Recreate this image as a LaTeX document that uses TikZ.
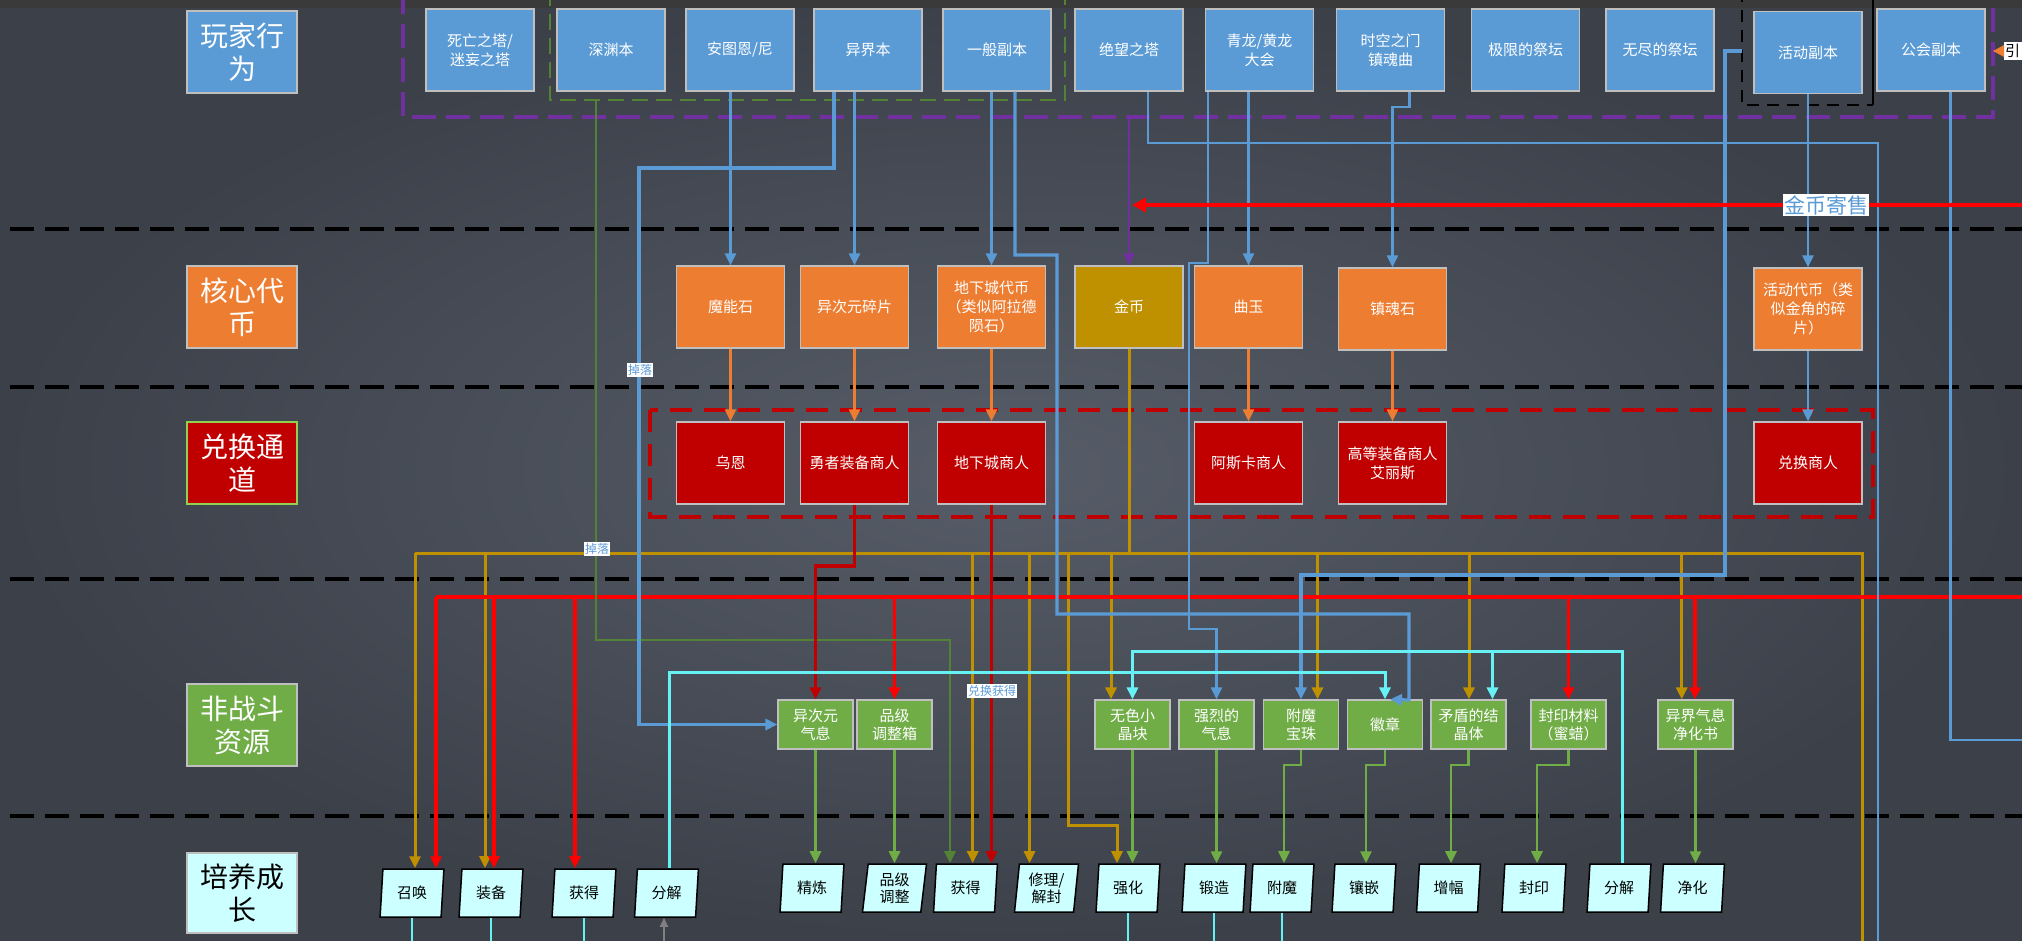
\documentclass[tikz,border=0pt]{standalone}
\usepackage{fontspec}
\newfontfamily\cjkf{Noto Sans CJK SC}
\usetikzlibrary{arrows.meta,shapes.geometric}
\definecolor{bgin}{HTML}{575D68}
\definecolor{bgout}{HTML}{3B4049}
\definecolor{topbar}{HTML}{3A3A3A}
\definecolor{cblue}{HTML}{5B9BD5}
\definecolor{corange}{HTML}{ED7D31}
\definecolor{cgold}{HTML}{BF9000}
\definecolor{cdred}{HTML}{C00000}
\definecolor{cgreen}{HTML}{70AD47}
\definecolor{cdgreen}{HTML}{548235}
\definecolor{ccyanbox}{HTML}{CCFFFF}
\definecolor{ccyan}{HTML}{66F2F5}
\definecolor{cred}{HTML}{FF0000}
\definecolor{cpurple}{HTML}{7030A0}
\definecolor{boxline}{HTML}{BFBFBF}
\definecolor{lgreen}{HTML}{92D050}
\begin{document}
\begin{tikzpicture}[x=1pt,y=-1pt,>={Triangle[length=12pt,width=11pt]},
 cbox/.style={draw=boxline, line width=1.2pt, inner sep=0pt, align=center, text=white, font=\cjkf\fontsize{15}{19}\selectfont},
 bigbox/.style={cbox, minimum width=108pt, minimum height=82pt},
 bluebox/.style={bigbox, fill=cblue},
 orbox/.style={bigbox, fill=corange},
 gdbox/.style={bigbox, fill=cgold},
 rdbox/.style={bigbox, fill=cdred},
 grbox/.style={cbox, fill=cgreen, minimum width=75pt, minimum height=49pt, font=\cjkf\fontsize{15}{18}\selectfont},
 labbox/.style={draw=boxline, line width=1.2pt, minimum width=110pt, minimum height=82pt, inner sep=0pt, align=center, text=white, font=\cjkf\fontsize{28}{33}\selectfont},
 growbox/.style={trapezium, trapezium left angle=84, trapezium right angle=96, trapezium stretches=true, draw=black, line width=1.5pt, fill=ccyanbox, minimum width=64pt, minimum height=48pt, inner sep=0pt, align=center, text=black, font=\cjkf\fontsize{15}{17}\selectfont},
 tagbox/.style={fill=white, inner sep=1pt, text=cblue, font=\cjkf\fontsize{12}{13}\selectfont},
 bl/.style={draw=cblue, line width=2.2pt},
 blt/.style={draw=cblue, line width=3.2pt},
 gl/.style={draw=cgold, line width=3pt},
 rl/.style={draw=cred, line width=3.5pt},
 drl/.style={draw=cdred, line width=3.5pt},
 orl/.style={draw=corange, line width=2.5pt},
 grl/.style={draw=cgreen, line width=2.8pt},
 dgl/.style={draw=cdgreen, line width=2.8pt},
 cyl/.style={draw=ccyan, line width=3pt},
 pul/.style={draw=cpurple, line width=2.2pt},
 sepline/.style={draw=black, line width=4pt, dash pattern=on 24pt off 11pt}]
\useasboundingbox (0,0) rectangle (2022,941);
\clip (0,0) rectangle (2022,941);
% background
\shade[inner color=bgin, outer color=bgout] (0,0) rectangle (2022,941);
\fill[topbar] (0,0) rectangle (2022,8);
% separators
\foreach \yy in {229.5,386.7,579,815.5} \draw[sepline] (10,\yy) -- (2030,\yy);
% groups
\draw[cpurple, line width=3.5pt, dash pattern=on 24pt off 10pt] (403,-10) -- (403,117) -- (1993,117) -- (1993,-10);
\draw[cdgreen, line width=2pt, dash pattern=on 16pt off 8pt] (550,-10) -- (550,100) -- (1065,100) -- (1065,-10);
\draw[black, line width=2.5pt, dash pattern=on 12pt off 8pt] (1742,-10) -- (1742,105) -- (1873,105);
\draw[black, line width=1.5pt] (1873,105) -- (1873,-10);
\draw[cdred, line width=3.5pt, dash pattern=on 22pt off 12pt] (650,410) rectangle (1873,517);
% left labels
\node[labbox, fill=cblue] (L1) at (242,52) {玩家行\\为};
\node[labbox, fill=corange] (L2) at (242,307) {核心代\\币};
\node[labbox, fill=cdred, draw=lgreen] (L3) at (242,463) {兑换通\\道};
\node[labbox, fill=cgreen] (L4) at (242,725) {非战斗\\资源};
\node[labbox, fill=ccyanbox, text=black, minimum height=80pt] (L5) at (242,893) {培养成\\长};
% top row
\node[bluebox] (tA) at (480,50) {死亡之塔/\\迷妄之塔};
\node[bluebox] (tB) at (611,50) {深渊本};
\node[bluebox] (tC) at (740,50) {安图恩/尼};
\node[bluebox] (tD) at (868,50) {异界本};
\node[bluebox] (tE) at (997,50) {一般副本};
\node[bluebox] (tF) at (1129,50) {绝望之塔};
\node[bluebox] (tG) at (1259.5,50) {青龙/黄龙\\大会};
\node[bluebox] (tH) at (1390.5,50) {时空之门\\镇魂曲};
\node[bluebox] (tI) at (1525.5,50) {极限的祭坛};
\node[bluebox] (tJ) at (1660,50) {无尽的祭坛};
\node[bluebox] (tK) at (1808,52.5) {活动副本};
\node[bluebox] (tL) at (1931,50) {公会副本};
% core row
\node[orbox] (c1) at (730.5,307) {魔能石};
\node[orbox] (c2) at (854.5,307) {异次元碎片};
\node[orbox] (c3) at (991.5,307) {地下城代币\\（类似阿拉德\\陨石）};
\node[gdbox] (c4) at (1129,307) {金币};
\node[orbox] (c5) at (1248.5,307) {曲玉};
\node[orbox] (c6) at (1392.5,309) {镇魂石};
\node[orbox] (c7) at (1808,309) {活动代币（类\\似金角的碎\\片）};
% exchange row
\node[rdbox] (e1) at (730.5,463) {乌恩};
\node[rdbox] (e2) at (854.5,463) {勇者装备商人};
\node[rdbox] (e3) at (991.5,463) {地下城商人};
\node[rdbox] (e4) at (1248.5,463) {阿斯卡商人};
\node[rdbox] (e5) at (1392.5,463) {高等装备商人\\艾丽斯};
\node[rdbox] (e6) at (1808,463) {兑换商人};
% resources row
\node[grbox] (g1) at (815.5,724.5) {异次元\\气息};
\node[grbox] (g2) at (894.5,724.5) {品级\\调整箱};
\node[grbox] (g3) at (1132.5,724.5) {无色小\\晶块};
\node[grbox] (g4) at (1216.5,724.5) {强烈的\\气息};
\node[grbox] (g5) at (1301,724.5) {附魔\\宝珠};
\node[grbox] (g6) at (1385,724.5) {徽章};
\node[grbox] (g7) at (1468.5,724.5) {矛盾的结\\晶体};
\node[grbox] (g8) at (1568.5,724.5) {封印材料\\（蜜蜡）};
\node[grbox] (g9) at (1695.5,724.5) {异界气息\\净化书};
% growth row
\node[growbox] (r1) at (412,893) {召唤};
\node[growbox] (r2) at (491,893) {装备};
\node[growbox] (r3) at (584,893) {获得};
\node[growbox] (r4) at (666.5,893) {分解};
\node[growbox] (r5) at (812,888) {精炼};
\node[growbox] (r6) at (894.5,888) {品级\\调整};
\node[growbox] (r7) at (965.5,888) {获得};
\node[growbox] (r8) at (1046.5,888) {修理/\\解封};
\node[growbox] (r9) at (1128,888) {强化};
\node[growbox] (r10) at (1214,888) {锻造};
\node[growbox] (r11) at (1282,888) {附魔};
\node[growbox] (r12) at (1364,888) {镶嵌};
\node[growbox] (r13) at (1448.5,888) {增幅};
\node[growbox] (r14) at (1534,888) {封印};
\node[growbox] (r15) at (1619,888) {分解};
\node[growbox] (r16) at (1692.5,888) {净化};
\coordinate (bot) at (0,945);
% right edge marker
\fill[white] (2004,42) rectangle (2030,60);
\node[inner sep=0pt, anchor=west, text=black, font=\cjkf\fontsize{15}{15}\selectfont] (yin) at (2005,51) {引};
\fill[corange] (1993,51) -- (2004,45) -- (2004,57) -- cycle;
% ---- connectors ----
% below growth
\foreach \n in {r1,r2,r3,r9,r10,r11} \draw[cyl, line width=2.2pt] (\n.south) -- (\n.south |- bot);
\coordinate (gy) at (664,945);
\draw[draw=gray, line width=2pt, ->, >={Triangle[length=9pt,width=8pt]}] (gy) -- (gy |- r4.south);
% gold
\draw[gl] (c4.south) -- (1129,553);
\draw[gl] (415,553) -- (1862,553) -- (1862,945);
\foreach \x/\n in {415/r1, 485/r2, 972.7/r7, 1029.5/r8, 1111/g3, 1317.5/g5, 1469/g7, 1681.7/g9} {
  \coordinate (tmp) at (\x,553);
  \draw[gl,->] (tmp) -- (tmp |- \n.north);
}
\coordinate (gq) at (1117,825);
\draw[gl,->] (1068,553) -- (1068,825) -- (gq) -- (gq |- r9.north);
% red
\draw[rl] (436,597) -- (2030,597);
\foreach \x/\n in {436/r1, 494/r2, 575/r3, 894.5/g2, 1568.5/g8, 1695/g9} {
  \coordinate (tmp) at (\x,597);
  \draw[rl,->] (tmp) -- (tmp |- \n.north);
}
% dark green
\coordinate (gg) at (596,100);
\coordinate (gg2) at (950,640);
\draw[dgl,->] (gg) -- (596,640) -- (gg2) -- (gg2 |- r7.north);
% dark red
\draw[drl,->] (e2.south) -- (854.5,566) -- (815.5,566) -- (g1.north);
\draw[drl,->] (e3.south) -- (e3.south |- r7.north);
% orange
\foreach \a/\b in {c1/e1,c2/e2,c3/e3,c5/e4,c6/e5} \draw[orl,->] (\a.south) -- (\b.north);
% blue
\draw[blt,->] ([xshift=-34pt]tD.south) -- (834,168) -- (639,168) -- (639,724.5) -- (g1.west);
\draw[bl,->] ([xshift=-9.5pt]tC.south) -- (c1.north);
\draw[bl,->] ([xshift=-13.5pt]tD.south) -- (c2.north);
\draw[bl,->] ([xshift=-5.5pt]tE.south) -- (c3.north);
\draw[blt,->] ([xshift=18pt]tE.south) -- (1015,255) -- (1057,255) -- (1057,614) -- (1409,614) -- (1409,700) -- ([xshift=5pt]g6.north);
\draw[bl] ([xshift=19pt]tF.south) -- (1148,143) -- (1878,143) -- (1878,945);
\draw[bl,->] ([xshift=-51.5pt]tG.south) -- (1208,263) -- (1189,263) -- (1189,629) -- (1216.5,629) -- (g4.north);
\draw[bl,->] ([xshift=-11pt]tG.south) -- (c5.north);
\draw[bl,->] ([xshift=19pt]tH.south) -- (1409.5,107) -- (1392.5,107) -- (c6.north);
\coordinate (hb) at (1742,51);
\draw[blt,->] (hb) -- (1725,51) -- (1725,575) -- (1301,575) -- (g5.north);
\draw[bl,->] (tK.south) -- (c7.north);
\draw[bl,->] (c7.south) -- (e6.north);
\draw[bl] ([xshift=19.5pt]tL.south) -- (1950.5,740) -- (2030,740);
% purple
\coordinate (pb) at (1129,117);
\draw[pul,->] (pb) -- (c4.north);
% red gold-sale arrow
\coordinate (rs) at (2030,205);
\draw[rl,->,>={Triangle[length=14pt,width=14pt]}] (rs) -- (1132,205);
% cyan
\coordinate (ca) at (669,672);
\draw[cyl,->] (ca |- r4.north) -- (ca) -- (1385,672) -- (g6.north);
\coordinate (cb) at (1622.5,651);
\draw[cyl,->] (cb |- r15.north) -- (cb) -- (1132.5,651) -- (g3.north);
\coordinate (cb2) at (1492.5,651);
\draw[cyl,->] (cb2) -- (cb2 |- g7.north);
% green
\draw[grl,->] (g1.south) -- (g1.south |- r5.north);
\draw[grl,->] (g2.south) -- (g2.south |- r6.north);
\draw[grl,->] (g3.south) -- (g3.south |- r9.north);
\draw[grl,->] (g4.south) -- (g4.south |- r10.north);
\draw[grl,->] (g9.south) -- (g9.south |- r16.north);
\coordinate (k5) at (1284,765);
\draw[grl,->] (g5.south) -- (1301,765) -- (k5) -- (k5 |- r11.north);
\coordinate (k6) at (1366,765);
\draw[grl,->] (g6.south) -- (1385,765) -- (k6) -- (k6 |- r12.north);
\coordinate (k7) at (1451,765);
\draw[grl,->] (g7.south) -- (1468.5,765) -- (k7) -- (k7 |- r13.north);
\coordinate (k8) at (1537,765);
\draw[grl,->] (g8.south) -- (1568.5,765) -- (k8) -- (k8 |- r14.north);
% labels
\node[tagbox] (dl1) at (640,370) {掉落};
\node[tagbox] (dl2) at (597,549) {掉落};
\node[tagbox] (dh) at (992,691) {兑换获得};
\node[tagbox, font=\cjkf\fontsize{21}{22}\selectfont] (jb) at (1826,205) {金币寄售};
\end{tikzpicture}
\end{document}
